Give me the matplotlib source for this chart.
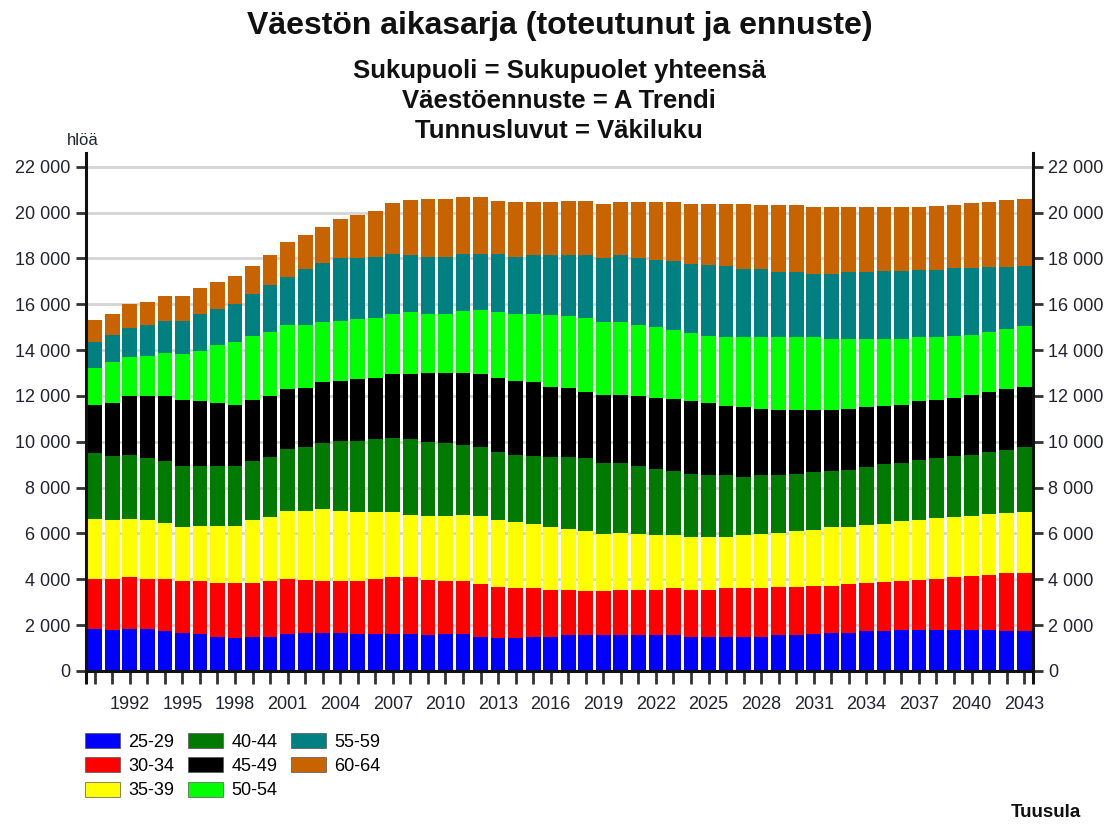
import matplotlib
matplotlib.use("Agg")
import matplotlib.pyplot as plt
from matplotlib.patches import Patch
from matplotlib.ticker import FuncFormatter, FixedLocator
import numpy as np

plt.rcParams['font.family'] = ['Liberation Sans', 'DejaVu Sans']

years = list(range(1990, 2044))

age_groups = ["25-29", "30-34", "35-39", "40-44", "45-49", "50-54", "55-59", "60-64"]
colors = ["#0000FF", "#FF0000", "#FFFF00", "#007A00", "#000000", "#00FF00", "#008080", "#C86400"]

a25_29 = [1850, 1790, 1850, 1850, 1730, 1670, 1620, 1480, 1430, 1480,
          1480, 1620, 1670, 1670, 1670, 1620, 1620, 1620, 1620, 1560,
          1620, 1620, 1500, 1440, 1440, 1500, 1500, 1560, 1560, 1560,
          1560, 1560, 1560, 1560, 1500, 1500, 1500, 1500, 1500, 1560,
          1560, 1620, 1670, 1670, 1730, 1730, 1790, 1790, 1790, 1790,
          1790, 1790, 1730, 1730]
a30_34 = [2180, 2240, 2240, 2180, 2300, 2240, 2290, 2370, 2420, 2370,
          2430, 2410, 2300, 2240, 2240, 2290, 2410, 2470, 2470, 2410,
          2290, 2290, 2300, 2240, 2170, 2110, 2050, 1990, 1930, 1930,
          1990, 1990, 1990, 2050, 2050, 2050, 2110, 2110, 2110, 2110,
          2110, 2100, 2050, 2110, 2110, 2170, 2140, 2180, 2240, 2300,
          2360, 2410, 2530, 2530]
a35_39 = [2600, 2560, 2540, 2560, 2440, 2380, 2420, 2480, 2480, 2740,
          2800, 2970, 3030, 3150, 3090, 3030, 2910, 2850, 2730, 2800,
          2860, 2910, 2970, 2900, 2910, 2790, 2740, 2660, 2610, 2490,
          2490, 2430, 2370, 2310, 2310, 2310, 2250, 2310, 2370, 2370,
          2430, 2430, 2550, 2520, 2520, 2520, 2600, 2620, 2630, 2630,
          2630, 2640, 2640, 2690]
a40_44 = [2870, 2790, 2810, 2680, 2670, 2670, 2630, 2630, 2630, 2550,
          2620, 2690, 2750, 2880, 3050, 3110, 3170, 3230, 3290, 3220,
          3170, 3040, 2980, 2990, 2920, 2980, 3040, 3120, 3170, 3100,
          3040, 2980, 2910, 2800, 2740, 2680, 2680, 2560, 2560, 2500,
          2500, 2510, 2450, 2470, 2540, 2600, 2550, 2610, 2610, 2660,
          2660, 2720, 2730, 2800]
a45_49 = [2110, 2300, 2550, 2720, 2850, 2860, 2800, 2720, 2660, 2680,
          2660, 2610, 2600, 2660, 2610, 2670, 2670, 2790, 2850, 3030,
          3080, 3160, 3210, 3210, 3220, 3220, 3080, 3020, 2910, 2970,
          2970, 3030, 3100, 3150, 3160, 3140, 3030, 3030, 2910, 2850,
          2790, 2730, 2670, 2680, 2610, 2550, 2540, 2560, 2550, 2550,
          2610, 2620, 2670, 2660]
a50_54 = [1600, 1780, 1700, 1770, 1890, 2000, 2180, 2560, 2740, 2790,
          2790, 2800, 2750, 2620, 2620, 2620, 2620, 2620, 2680, 2560,
          2560, 2680, 2800, 2860, 2920, 2980, 3120, 3120, 3220, 3170,
          3170, 3110, 3060, 2990, 2980, 2940, 2980, 3040, 3100, 3160,
          3160, 3160, 3100, 3040, 2980, 2920, 2870, 2790, 2730, 2680,
          2620, 2600, 2610, 2620]
a55_59 = [1150, 1190, 1280, 1330, 1380, 1440, 1640, 1570, 1640, 1820,
          2070, 2110, 2420, 2600, 2730, 2670, 2670, 2610, 2490, 2490,
          2490, 2490, 2430, 2550, 2490, 2550, 2600, 2660, 2730, 2790,
          2910, 2910, 2960, 3020, 3030, 3090, 3100, 2980, 2980, 2850,
          2850, 2790, 2850, 2900, 2900, 2960, 2960, 2950, 2950, 2950,
          2890, 2840, 2710, 2650]
a60_64 = [960, 930, 1050, 1020, 1110, 1110, 1140, 1170, 1240, 1250,
          1310, 1510, 1510, 1570, 1690, 1870, 2010, 2240, 2420, 2530,
          2530, 2490, 2490, 2310, 2370, 2310, 2310, 2370, 2370, 2360,
          2310, 2430, 2490, 2560, 2600, 2660, 2720, 2840, 2780, 2910,
          2910, 2910, 2900, 2850, 2840, 2780, 2780, 2730, 2800, 2790,
          2850, 2850, 2910, 2910]

series = [a25_29, a30_34, a35_39, a40_44, a45_49, a50_54, a55_59, a60_64]

fig = plt.figure(figsize=(11.12, 8.26), dpi=100)
ax = fig.add_axes([0.0773, 0.1877, 0.8516, 0.6271])

x = np.arange(len(years))
bottom = np.zeros(len(years))
for vals, col in zip(series, colors):
    v = np.array(vals, dtype=float)
    ax.bar(x, v, bottom=bottom, width=0.84, color=col, linewidth=0, zorder=2)
    bottom += v

ax.set_xlim(-0.5, len(years) - 0.5)
ax.set_ylim(0, 22600)

# horizontal grid every 2000 persons
ax.set_yticks(np.arange(0, 22001, 2000))
ax.yaxis.set_major_formatter(FuncFormatter(lambda v, p: f"{int(v):,}".replace(",", " ")))
ax.grid(axis='y', color='#d4d4d4', linewidth=2, zorder=0)
ax.set_axisbelow(True)

# x ticks at every year, labels every third year
ax.xaxis.set_major_locator(FixedLocator(x))
ax.set_xticklabels([str(y) if (y - 1992) % 3 == 0 else "" for y in years])
ax.xaxis.set_minor_locator(FixedLocator([-0.5, len(years) - 0.5]))

for side in ['left', 'right', 'bottom']:
    ax.spines[side].set_linewidth(2.2)
    ax.spines[side].set_color('#111111')
ax.spines['top'].set_visible(False)

ax.tick_params(axis='y', which='major', direction='out', length=7, width=2,
               color='#333333', labelsize=13, labelcolor='#222233',
               left=True, right=True, labelleft=True, labelright=True, pad=4)
ax.tick_params(axis='x', which='major', direction='out', length=9, width=2,
               color='#333333', labelsize=13, labelcolor='#222233', pad=9)
ax.tick_params(axis='x', which='minor', direction='out', length=9, width=2.2,
               color='#111111')

fig.text(0.0605, 0.830, "hlöä", fontsize=12, color='#222233', ha='left', va='center')

fig.text(0.503, 0.968, "Väestön aikasarja (toteutunut ja ennuste)",
         fontsize=23, fontweight='bold', ha='center', va='center', color='#111111')
fig.text(0.503, 0.914, "Sukupuoli = Sukupuolet yhteensä",
         fontsize=18.5, fontweight='bold', ha='center', va='center', color='#111111')
fig.text(0.503, 0.878, "Väestöennuste = A Trendi",
         fontsize=18.5, fontweight='bold', ha='center', va='center', color='#111111')
fig.text(0.503, 0.842, "Tunnusluvut = Väkiluku",
         fontsize=18.5, fontweight='bold', ha='center', va='center', color='#111111')

handles = [Patch(facecolor=c, edgecolor='#555555', linewidth=0.5, label=l)
           for c, l in zip(colors, age_groups)]
fig.legend(handles=handles, loc='upper left', bbox_to_anchor=(0.070, 0.121),
           ncol=3, frameon=False, fontsize=13, handlelength=1.95,
           handleheight=0.9, handletextpad=0.45, columnspacing=0.75,
           labelspacing=0.36, borderaxespad=0)

fig.text(0.972, 0.006, "Tuusula", fontsize=13.5, fontweight='bold',
         ha='right', va='bottom', color='#111111')

fig.savefig("out.png", dpi=100)
